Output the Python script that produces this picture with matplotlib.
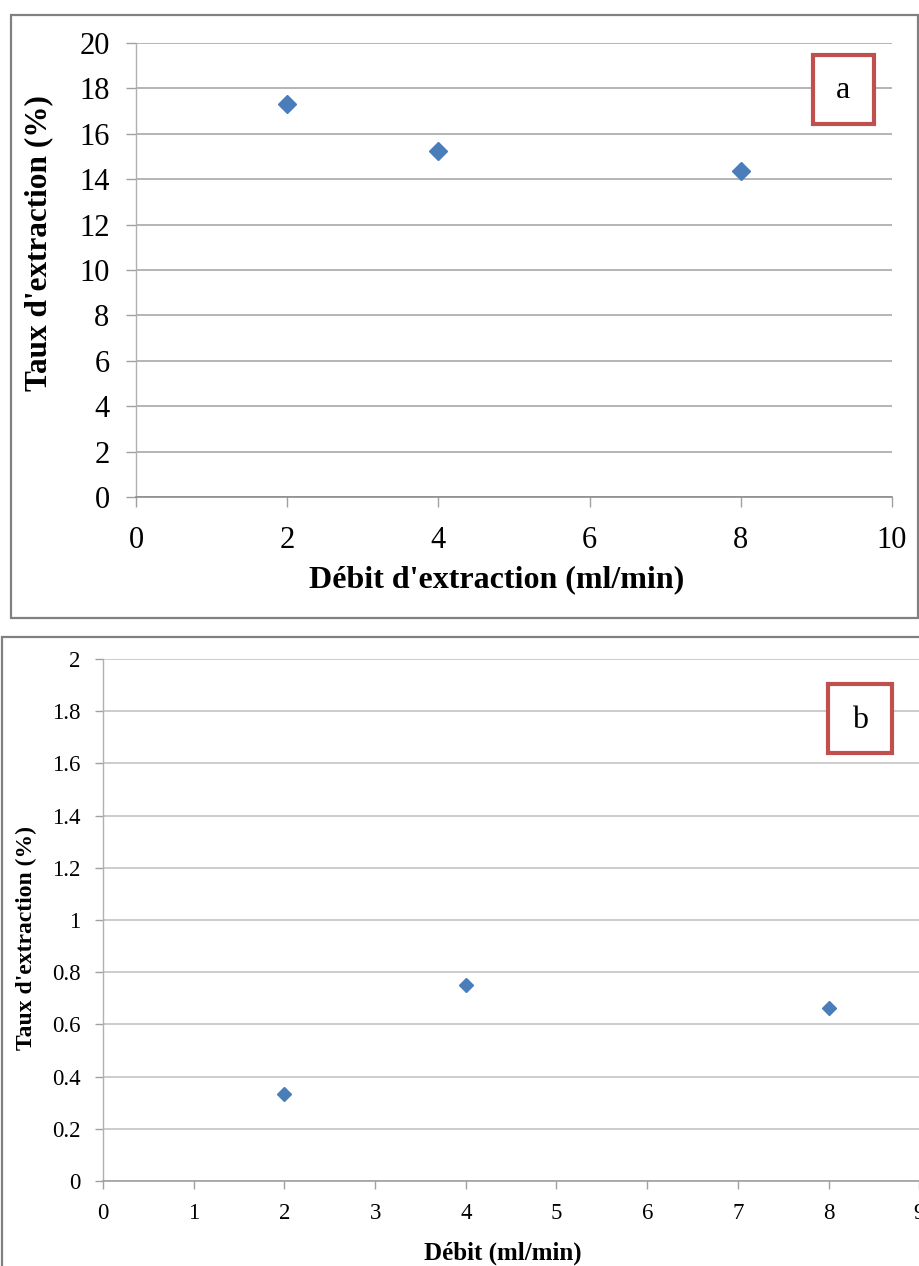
import matplotlib
matplotlib.use("Agg")
import matplotlib.pyplot as plt
from matplotlib.patches import Rectangle

# panel a: extraction rate vs flow rate
debit_a = [2, 4, 8]
taux_a = [17.3, 15.25, 14.37]
xticks_a = [0, 2, 4, 6, 8, 10]
yticks_a = [0, 2, 4, 6, 8, 10, 12, 14, 16, 18, 20]

# panel b
debit_b = [2, 4, 8]
taux_b = [0.333, 0.751, 0.662]
xticks_b = [0, 1, 2, 3, 4, 5, 6, 7, 8, 9, 10]
yticks_b = [0, 0.2, 0.4, 0.6, 0.8, 1, 1.2, 1.4, 1.6, 1.8, 2]
yticklabels_b = ['0', '0.2', '0.4', '0.6', '0.8', '1', '1.2', '1.4', '1.6', '1.8', '2']

W, H = 920, 1266
blue = '#4A7EBB'
red = '#C0504D'
serif = 'Liberation Serif'


def fx(px):
    return px / W


def fy(py):
    return 1 - py / H


fig = plt.figure(figsize=(W / 100, H / 100), dpi=100)

# panel frames
fig.patches.append(Rectangle((fx(11), fy(618)), fx(907), (618 - 15) / H,
                             transform=fig.transFigure, fill=False,
                             edgecolor='#808080', lw=1.6))
fig.patches.append(Rectangle((fx(2), fy(1300)), fx(960), (1300 - 637) / H,
                             transform=fig.transFigure, fill=False,
                             edgecolor='#808080', lw=1.6))


def style_axes(ax, grid_color, spine_color, ticksize, ticklen, pad):
    ax.grid(True, axis='y', color=grid_color, lw=1.2)
    ax.set_axisbelow(True)
    for s in ['top', 'right']:
        ax.spines[s].set_visible(False)
    ax.spines['left'].set_color('#B0B0B0')
    ax.spines['bottom'].set_color(spine_color)
    ax.spines['left'].set_linewidth(1.0)
    ax.spines['bottom'].set_linewidth(1.2)
    ax.tick_params(axis='both', direction='out', length=ticklen, width=1.0,
                   color='#A0A0A0', labelsize=ticksize, pad=pad)
    for lab in ax.get_xticklabels() + ax.get_yticklabels():
        lab.set_fontfamily(serif)


# --- panel a ---
ax1 = fig.add_axes([fx(136), fy(497), fx(892 - 136), (497 - 43) / H])
ax1.plot(debit_a, taux_a, linestyle='none', marker='D', markersize=9.3,
         color=blue)
ax1.set_xlim(0, 10)
ax1.set_ylim(0, 20)
ax1.set_xticks(xticks_a)
ax1.set_yticks(yticks_a)
style_axes(ax1, '#A8A8A8', '#8C8C8C', 22, 7, 12)
ax1.tick_params(axis='x', pad=14)
ax1.set_xlabel("Débit d'extraction (ml/min)", fontsize=23, fontweight='bold',
               family=serif)
ax1.set_ylabel("Taux d'extraction (%)", fontsize=22.5, fontweight='bold',
               family=serif)
ax1.xaxis.set_label_coords(0.4775, -0.15)
ax1.yaxis.set_label_coords(-0.110, 0.559)

fig.patches.append(Rectangle((fx(813), fy(124)), fx(61), 69 / H,
                             transform=fig.transFigure, facecolor='white',
                             edgecolor=red, lw=3, zorder=5))
fig.text(fx(843.5), fy(91), 'a', fontsize=23, family=serif,
         ha='center', va='center', zorder=6)

# --- panel b ---
ax2 = fig.add_axes([fx(103), fy(1181), fx(1010 - 103), (1181 - 659) / H])
ax2.plot(debit_b, taux_b, linestyle='none', marker='D', markersize=7.4,
         color=blue)
ax2.set_xlim(0, 10)
ax2.set_ylim(0, 2)
ax2.set_xticks(xticks_b)
ax2.set_yticks(yticks_b)
ax2.set_yticklabels(yticklabels_b)
style_axes(ax2, '#C4C4C4', '#A0A0A0', 16.5, 6, 10)
ax2.set_xlabel("Débit (ml/min)", fontsize=18, fontweight='bold',
               family=serif)
ax2.set_ylabel("Taux d'extraction (%)", fontsize=17, fontweight='bold',
               family=serif)
ax2.xaxis.set_label_coords(0.441, -0.117)
ax2.yaxis.set_label_coords(-0.0728, 0.4655)

fig.patches.append(Rectangle((fx(828), fy(753)), fx(64), 69 / H,
                             transform=fig.transFigure, facecolor='white',
                             edgecolor=red, lw=3, zorder=5))
fig.text(fx(860), fy(720), 'b', fontsize=23, family=serif,
         ha='center', va='center', zorder=6)

fig.savefig('out.png', dpi=100)
